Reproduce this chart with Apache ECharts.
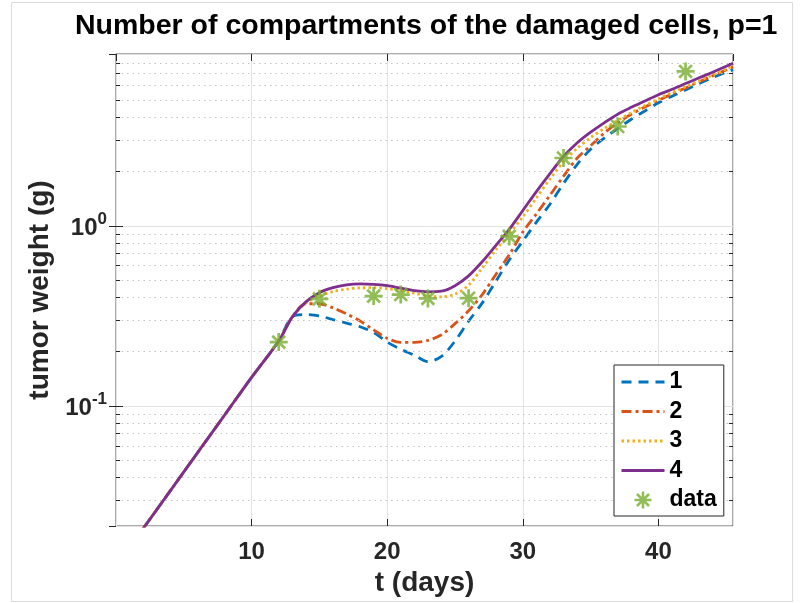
<!DOCTYPE html>
<html>
<head>
<meta charset="utf-8">
<script src="https://cdn.jsdelivr.net/npm/echarts@6/dist/echarts.min.js"></script>
<style>
html,body{margin:0;padding:0;background:#fff;}
#chart{width:800px;height:603px;}
</style>
</head>
<body>
<div id="chart"></div>
<script>
// ---- data ----
const days = [0,2,4,6,8,10,12,13,14,15,16,17,18,19,20,21,22,23,24,25,26,27,28,29,30,31,32,33,34,35,36,37,38,39,40,41,42,43,44,45,45.5];
// shared early growth (t = 0..13), identical for all models
const trunk = [0.0128,0.0208,0.0337,0.0547,0.0887,0.144,0.229,0.312];
// t = 14..45.5 for each number of compartments
const comp1 = [0.321,0.316,0.301,0.288,0.275,0.255,0.226,0.206,0.191,0.176,0.188,0.229,0.295,0.372,0.49,0.646,0.822,1.047,1.318,1.718,2.188,2.661,3.069,3.467,3.908,4.345,4.819,5.248,5.689,6.166,6.653,7.129,7.362];
const comp2 = [0.369,0.369,0.35,0.324,0.296,0.264,0.237,0.225,0.225,0.231,0.248,0.286,0.337,0.414,0.535,0.69,0.923,1.164,1.479,1.884,2.371,2.786,3.273,3.733,4.169,4.571,4.977,5.395,5.821,6.31,6.808,7.328,7.638];
const comp3 = [0.372,0.407,0.431,0.445,0.452,0.453,0.447,0.437,0.422,0.407,0.403,0.417,0.468,0.582,0.733,0.902,1.122,1.429,1.82,2.265,2.692,3.09,3.467,3.846,4.246,4.656,5.07,5.495,5.916,6.383,6.887,7.413,7.762];
const comp4 = [0.378,0.425,0.453,0.47,0.476,0.473,0.465,0.45,0.436,0.43,0.433,0.465,0.527,0.631,0.776,0.955,1.216,1.549,1.95,2.427,2.884,3.311,3.733,4.169,4.55,4.932,5.346,5.728,6.166,6.637,7.129,7.691,7.998];
const dataDays = [12,15,19,21,23,26,29,33,37,42];
const dataWeight = [0.226,0.393,0.407,0.415,0.395,0.396,0.873,2.38,3.56,7.2];
const seriesNames = ['1','2','3','4'];
const xTicks = [10,20,30,40];
const yMajorTicks = [0.1,1];
const minorFactors = [2,3,4,5,6,7,8,9];
const decades = [0.01,0.1,1];

// ---- layout / style ----
const xMin = 0, xMax = 45.5, yMin = 0.0215, yMax = 9.0;
const FONT = '"Liberation Sans", Arial, Helvetica, sans-serif';
const AX = '#262626';
const colors = ['#0072BD','#D95319','#EDB120','#7E2F8E'];
const dashes = [[10,7],[10,4,3,4],[2.5,3],'solid'];
const STAR = 'path://M-10 -1.5L10 -1.5L10 1.5L-10 1.5Z M-1.5 -10L1.5 -10L1.5 10L-1.5 10Z M-6.01 -8.13L8.13 6.01L6.01 8.13L-8.13 -6.01Z M-8.13 6.01L6.01 -8.13L8.13 -6.01L-6.01 8.13Z';

function build(vals){ return days.map((d,i)=>[d, i < trunk.length ? trunk[i] : vals[i-trunk.length]]); }
const compVals = [comp1,comp2,comp3,comp4];

// minor log grid lines and minor ticks (positions from tick arrays)
const minorVals = [];
decades.forEach(d => minorFactors.forEach(f => { const v = +(d*f).toPrecision(3); if (v > yMin && v < yMax) minorVals.push(v); }));
const tickLen = 0.3;
const minorLines = [];
minorVals.forEach(v => {
  minorLines.push([{coord:[xMin, v], lineStyle:{color:'#c4c4c4', type:[1.5,4], width:1}}, {coord:[xMax, v]}]);
  minorLines.push([{coord:[xMin, v], lineStyle:{color:AX, type:'solid', width:1}}, {coord:[xMin + tickLen, v]}]);
  minorLines.push([{coord:[xMax - tickLen, v], lineStyle:{color:AX, type:'solid', width:1}}, {coord:[xMax, v]}]);
});

const series = [{
  type:'line', data:[], silent:true, z:1,
  markLine:{silent:true, symbol:['none','none'], animation:false, label:{show:false}, data:minorLines}
}];
seriesNames.forEach((n,k) => series.push({
  name:n, type:'line', data:build(compVals[k]), symbol:'none', smooth:0.3, z:3+k,
  lineStyle:{color:colors[k], width:2.8, type:dashes[k]}, itemStyle:{color:colors[k]}
}));
series.push({
  name:'data', type:'scatter', data:dataDays.map((d,i)=>[d,dataWeight[i]]),
  symbol:STAR, symbolSize:18, z:10, itemStyle:{color:'#77AC30'}
});

const legendData = seriesNames.map(n => ({name:n, itemStyle:{opacity:0}, lineStyle:{width:3}})).concat([{name:'data'}]);

const chart = echarts.init(document.getElementById('chart'), null, {renderer:'canvas'});
chart.setOption({
  animation:false,
  backgroundColor:'#fff',
  title:{
    text:'Number of compartments of the damaged cells, p=1',
    left:75, top:12, padding:0,
    textStyle:{fontFamily:FONT, fontSize:28.5, fontWeight:'bold', color:'#000'}
  },
  graphic:[{type:'rect', silent:true, z:-1, shape:{x:11.5, y:2.5, width:781, height:599}, style:{fill:'none', stroke:'#dcdcdc', lineWidth:1}}],
  grid:{left:116, top:54, width:617, height:472, show:true, borderColor:'#555', borderWidth:1, backgroundColor:'#fff'},
  legend:{
    data:legendData, orient:'vertical', left:614, top:365,
    itemWidth:43, itemHeight:17, itemGap:6.5, padding:[5.5,7,4.5,6],
    borderColor:AX, borderWidth:1, backgroundColor:'#fff', selectedMode:false, z:20,
    textStyle:{fontFamily:FONT, fontSize:23, fontWeight:'bold', color:'#000'}
  },
  xAxis:[{
    type:'value', min:xMin, max:xMax, interval:10, position:'bottom',
    axisLine:{show:false}, axisTick:{inside:true, length:7, lineStyle:{color:AX}},
    axisLabel:{fontFamily:FONT, fontSize:24, fontWeight:'bold', color:AX, margin:14, showMinLabel:false, showMaxLabel:false,
      formatter:v => xTicks.indexOf(v) >= 0 ? String(v) : ''},
    splitLine:{show:true, lineStyle:{color:'#e3e3e3', width:1}},
    name:'t (days)', nameLocation:'middle', nameGap:40,
    nameTextStyle:{fontFamily:FONT, fontSize:28, fontWeight:'bold', color:AX}
  },{
    type:'value', min:xMin, max:xMax, interval:10, position:'top',
    axisLine:{show:false}, axisTick:{inside:true, length:7, lineStyle:{color:AX}},
    axisLabel:{show:false}, splitLine:{show:false}
  }],
  yAxis:[{
    type:'log', logBase:10, min:yMin, max:yMax, position:'left',
    axisLine:{show:false}, axisTick:{inside:true, length:7, lineStyle:{color:AX}},
    axisLabel:{margin:9, showMinLabel:false, showMaxLabel:false,
      formatter:v => { const l = Math.log10(v), e = Math.round(l); if (Math.abs(l-e) > 1e-6) return ''; return '{b|10}{s|' + e + '}'; },
      rich:{
        b:{fontFamily:FONT, fontSize:24, fontWeight:'bold', color:AX, lineHeight:30, verticalAlign:'bottom'},
        s:{fontFamily:FONT, fontSize:17, fontWeight:'bold', color:AX, lineHeight:17, verticalAlign:'top'}
      }},
    splitLine:{show:true, lineStyle:{color:'#e3e3e3', width:1}},
    name:'tumor weight (g)', nameLocation:'middle', nameGap:60,
    nameTextStyle:{fontFamily:FONT, fontSize:28, fontWeight:'bold', color:AX}
  },{
    type:'log', logBase:10, min:yMin, max:yMax, position:'right',
    axisLine:{show:false}, axisTick:{inside:true, length:7, lineStyle:{color:AX}},
    axisLabel:{show:false}, splitLine:{show:false}
  }],
  series:series
});
</script>
</body>
</html>
